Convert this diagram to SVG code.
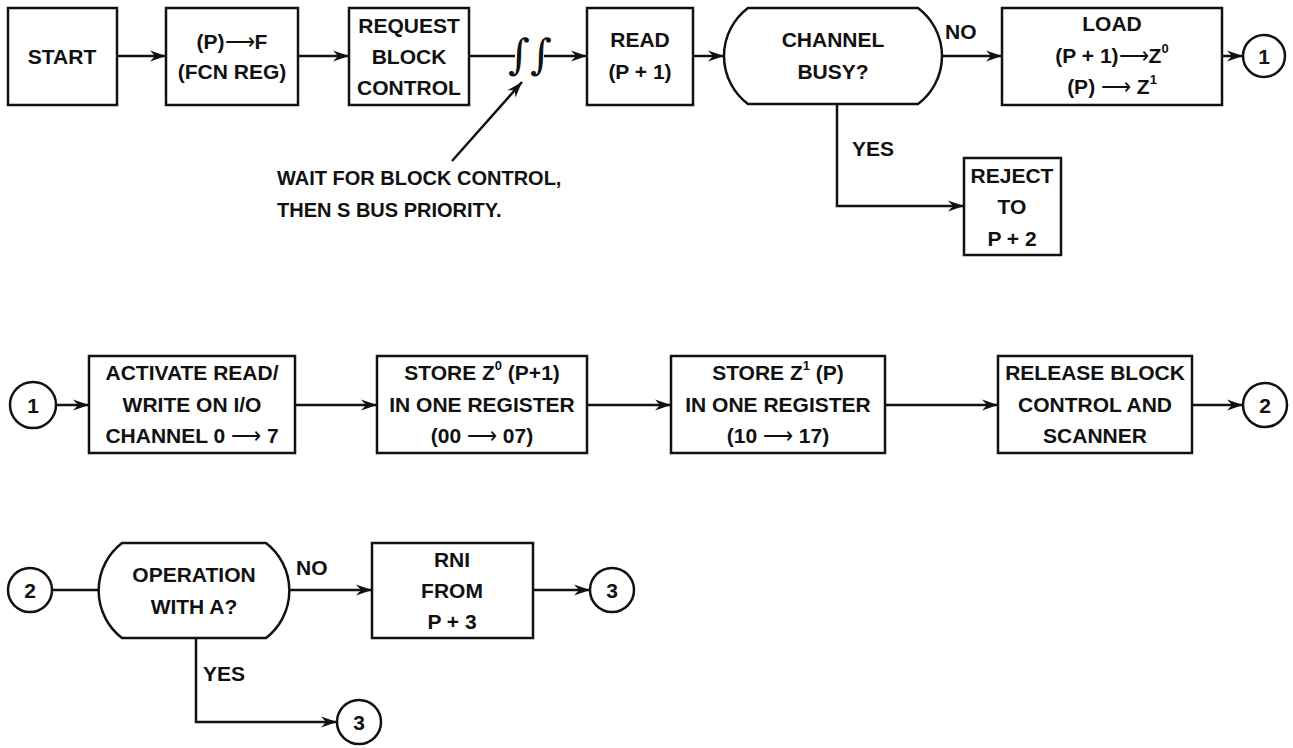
<svg xmlns="http://www.w3.org/2000/svg" width="1293" height="748" viewBox="0 0 1293 748">
<defs>
<marker id="ah" markerWidth="17" markerHeight="12" refX="16" refY="6" orient="auto" markerUnits="userSpaceOnUse">
<path d="M0,0.5 L16,6 L0,11.5 L5,6 Z" fill="#111"/>
</marker>
<style>
.b{fill:#fff;stroke:#111;stroke-width:2.5}
.c{fill:none;stroke:#111;stroke-width:2.5}
.ar{marker-end:url(#ah)}
text{font-family:"Liberation Sans",Arial,sans-serif;font-weight:bold;font-size:21px;fill:#111;text-anchor:middle;dominant-baseline:central}
.l{text-anchor:start}
.n{font-weight:normal}
.s{font-size:13px;font-weight:bold}
.w{font-family:"DejaVu Serif",serif;font-weight:normal;font-size:42px}
</style>
</defs>
<rect width="1293" height="748" fill="#fff"/>
<g id="connectors">
<line class="c ar" x1="117" y1="56" x2="166" y2="56"/>
<line class="c ar" x1="298" y1="56" x2="349" y2="56"/>
<line class="c" x1="469" y1="56" x2="515" y2="56"/>
<line class="c ar" x1="544" y1="56" x2="587" y2="56"/>
<line class="c ar" x1="693" y1="56" x2="724" y2="56"/>
<line class="c ar" x1="942" y1="56" x2="1002" y2="56"/>
<line class="c ar" x1="1222" y1="56" x2="1243" y2="56"/>
<polyline class="c ar" points="837,104 837,206 964,206"/>
<line class="c ar" x1="452" y1="161" x2="522" y2="82"/>
<line class="c ar" x1="56" y1="405" x2="89" y2="405"/>
<line class="c ar" x1="295" y1="405" x2="377" y2="405"/>
<line class="c ar" x1="587" y1="405" x2="671" y2="405"/>
<line class="c ar" x1="885" y1="405" x2="998" y2="405"/>
<line class="c ar" x1="1192" y1="405" x2="1243" y2="405"/>
<line class="c" x1="52" y1="590" x2="98" y2="590"/>
<line class="c ar" x1="290" y1="590" x2="372" y2="590"/>
<line class="c ar" x1="533" y1="590" x2="590" y2="590"/>
<polyline class="c ar" points="196,638 196,722 337,722"/>
</g>
<g id="wait-symbol"><text class="w" x="530" y="54">∫∫</text></g>
<g id="note">
<text class="l" x="277" y="178" style="font-size:20px">WAIT FOR BLOCK CONTROL,</text>
<text class="l" x="277" y="210" style="font-size:20px">THEN S BUS PRIORITY.</text>
</g>
<g id="start"><rect class="b" x="8" y="8" width="109" height="97"/><text x="62" y="56">START</text></g>
<g id="p-to-f"><rect class="b" x="166" y="8" width="132" height="97"/><text x="232" y="41">(P)<tspan class="n">⟶</tspan>F</text><text x="232" y="71">(FCN REG)</text></g>
<g id="request"><rect class="b" x="349" y="8" width="120" height="97"/><text x="409" y="25">REQUEST</text><text x="409" y="56">BLOCK</text><text x="409" y="87">CONTROL</text></g>
<g id="read"><rect class="b" x="587" y="8" width="106" height="97"/><text x="640" y="39">READ</text><text x="640" y="71">(P + 1)</text></g>
<g id="channel-busy"><path class="b" d="M748,8 H918 A60,60 0 0 1 918,104 H748 A60,60 0 0 1 748,8 Z"/><text x="833" y="39">CHANNEL</text><text x="833" y="71">BUSY?</text></g>
<text class="l" x="945" y="31">NO</text>
<text class="l" x="852" y="148">YES</text>
<g id="load"><rect class="b" x="1002" y="8" width="220" height="97"/><text x="1112" y="23">LOAD</text><text x="1112" y="55">(P + 1)<tspan class="n">⟶</tspan>Z<tspan class="s" dy="-7">0</tspan></text><text x="1112" y="86">(P) <tspan class="n">⟶</tspan> Z<tspan class="s" dy="-7">1</tspan></text></g>
<g id="conn1-top"><circle class="b" cx="1264" cy="56" r="21"/><text x="1264" y="56">1</text></g>
<g id="reject"><rect class="b" x="964" y="158" width="97" height="97"/><text x="1012" y="175">REJECT</text><text x="1012" y="206">TO</text><text x="1012" y="238">P + 2</text></g>
<g id="conn1-mid"><circle class="b" cx="33" cy="405" r="23"/><text x="33" y="405">1</text></g>
<g id="activate"><rect class="b" x="89" y="356" width="206" height="97"/><text x="192" y="372">ACTIVATE READ/</text><text x="192" y="404">WRITE ON I/O</text><text x="192" y="435">CHANNEL 0 <tspan class="n">⟶</tspan> 7</text></g>
<g id="store-z0"><rect class="b" x="377" y="356" width="210" height="97"/><text x="482" y="372">STORE Z<tspan class="s" dy="-7">0</tspan><tspan dy="7"> (P+1)</tspan></text><text x="482" y="404">IN ONE REGISTER</text><text x="482" y="435">(00 <tspan class="n">⟶</tspan> 07)</text></g>
<g id="store-z1"><rect class="b" x="671" y="356" width="214" height="97"/><text x="778" y="372">STORE Z<tspan class="s" dy="-7">1</tspan><tspan dy="7"> (P)</tspan></text><text x="778" y="404">IN ONE REGISTER</text><text x="778" y="435">(10 <tspan class="n">⟶</tspan> 17)</text></g>
<g id="release"><rect class="b" x="998" y="356" width="194" height="97"/><text x="1095" y="372">RELEASE BLOCK</text><text x="1095" y="404">CONTROL AND</text><text x="1095" y="435">SCANNER</text></g>
<g id="conn2-mid"><circle class="b" cx="1265" cy="405" r="22"/><text x="1265" y="405">2</text></g>
<g id="conn2-bot"><circle class="b" cx="30" cy="590" r="22"/><text x="30" y="590">2</text></g>
<g id="operation"><path class="b" d="M122,543 H266 A60,60 0 0 1 266,638 H122 A60,60 0 0 1 122,543 Z"/><text x="194" y="574">OPERATION</text><text x="194" y="606">WITH A?</text></g>
<text class="l" x="296" y="567">NO</text>
<text class="l" x="203" y="673">YES</text>
<g id="rni"><rect class="b" x="372" y="543" width="161" height="95"/><text x="452" y="559">RNI</text><text x="452" y="590">FROM</text><text x="452" y="621">P + 3</text></g>
<g id="conn3-right"><circle class="b" cx="612" cy="590" r="22"/><text x="612" y="590">3</text></g>
<g id="conn3-bottom"><circle class="b" cx="359" cy="722" r="22"/><text x="359" y="722">3</text></g>
</svg>
